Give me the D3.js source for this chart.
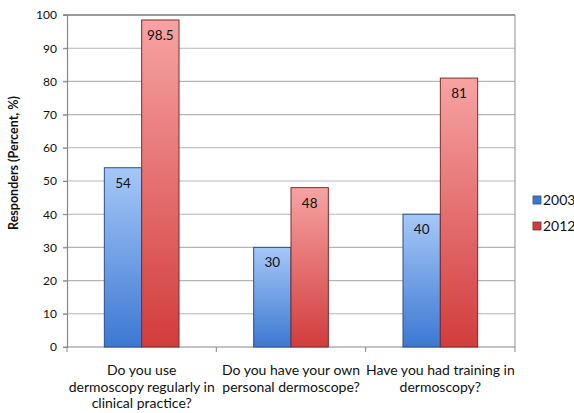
<!DOCTYPE html>
<html>
<head>
<meta charset="utf-8">
<script src="https://cdn.jsdelivr.net/npm/d3@7"></script>
<style>
  html, body { margin: 0; padding: 0; background: #fff; }
  svg { display: block; }
  text { font-family: Lato, "Open Sans", sans-serif; fill: #111; }
</style>
</head>
<body>
<svg id="chart" width="574" height="413"></svg>
<script>
// Survey questions (one group per question)
const categories = [
  "Do you use dermoscopy regularly in clinical practice?",
  "Do you have your own personal dermoscope?",
  "Have you had training in dermoscopy?"
];
const categoryLines = [
  ["Do you use", "dermoscopy regularly in", "clinical practice?"],
  ["Do you have your own", "personal dermoscope?"],
  ["Have you had training in", "dermoscopy?"]
];
const seriesNames = ["2003", "2012"];
const values2003 = [54, 30, 40];
const values2012 = [98.5, 48, 81];
const yTicks = [0, 10, 20, 30, 40, 50, 60, 70, 80, 90, 100];

const svg = d3.select("#chart");
const plot = { left: 67, right: 515, top: 15, bottom: 347 };

// Gradients: light at the top, saturated at the base
const defs = svg.append("defs");
const grads = [
  { id: "g2003", top: "#a6c8f7", bottom: "#3c78d2", stroke: "#2d4f86" },
  { id: "g2012", top: "#f7a3a3", bottom: "#d23c3c", stroke: "#7a2b2b" }
];
grads.forEach(g => {
  const lg = defs.append("linearGradient").attr("id", g.id)
    .attr("x1", 0).attr("y1", 0).attr("x2", 0).attr("y2", 1);
  lg.append("stop").attr("offset", "0%").attr("stop-color", g.top);
  lg.append("stop").attr("offset", "100%").attr("stop-color", g.bottom);
});

const x0 = d3.scaleBand().domain(categories)
  .range([plot.left, plot.right]).paddingInner(0.5).paddingOuter(0.25);
const x1 = d3.scaleBand().domain(seriesNames).range([0, x0.bandwidth()]);
const y = d3.scaleLinear().domain([0, 100]).range([plot.bottom, plot.top]);

// Gridlines
svg.append("g").selectAll("line").data(yTicks.filter(t => t > 0)).join("line")
  .attr("x1", plot.left - 4).attr("x2", plot.right)
  .attr("y1", d => y(d)).attr("y2", d => y(d))
  .attr("stroke", d => d === 100 ? "#777" : "#b5b5b5")
  .attr("stroke-width", d => d === 100 ? 1.4 : 1.1);

// Right border of plot area
svg.append("line")
  .attr("x1", plot.right).attr("x2", plot.right)
  .attr("y1", plot.top).attr("y2", plot.bottom)
  .attr("stroke", "#999").attr("stroke-width", 1.1);

// Y axis
const yAxis = svg.append("g").attr("transform", `translate(${plot.left},0)`)
  .call(d3.axisLeft(y).tickValues(yTicks).tickSize(4).tickPadding(6));
yAxis.select(".domain").attr("stroke", "#888").attr("stroke-width", 1.2);
yAxis.selectAll(".tick line").attr("stroke", "#888");
yAxis.selectAll(".tick text").style("font-size", "12px").attr("fill", "#222")
  .style("font-family", "Lato, sans-serif");

// X axis baseline with category separators
const xAxisG = svg.append("g").attr("transform", `translate(0,${plot.bottom})`);
xAxisG.append("line").attr("x1", plot.left - 4).attr("x2", plot.right)
  .attr("stroke", "#888").attr("stroke-width", 1.2);
const bounds = d3.range(categories.length + 1).map(i => plot.left + i * (plot.right - plot.left) / categories.length);
xAxisG.selectAll("line.sep").data(bounds).join("line").attr("class", "sep")
  .attr("x1", d => d).attr("x2", d => d).attr("y1", 0).attr("y2", 5)
  .attr("stroke", "#888");

// Bars
const rows = categories.map((c, i) => ({ cat: c, vals: [values2003[i], values2012[i]] }));
const groups = svg.append("g").selectAll("g").data(rows).join("g")
  .attr("transform", d => `translate(${x0(d.cat)},0)`);
groups.selectAll("rect").data(d => d.vals.map((v, j) => ({ v, s: seriesNames[j], j })))
  .join("rect")
  .attr("x", d => x1(d.s)).attr("width", x1.bandwidth())
  .attr("y", d => y(d.v)).attr("height", d => y(0) - y(d.v))
  .attr("fill", d => `url(#${grads[d.j].id})`)
  .attr("stroke", d => grads[d.j].stroke).attr("stroke-width", 1);
groups.selectAll("text").data(d => d.vals.map((v, j) => ({ v, s: seriesNames[j] })))
  .join("text")
  .attr("x", d => x1(d.s) + x1.bandwidth() / 2)
  .attr("y", d => y(d.v) + 20)
  .attr("text-anchor", "middle")
  .style("font-size", "13.5px").attr("fill", "#1a1a2a")
  .text(d => d.v);

// Category labels
const labG = svg.append("g").selectAll("text").data(categories).join("text")
  .attr("text-anchor", "middle")
  .attr("transform", d => `translate(${x0(d) + x0.bandwidth() / 2},${plot.bottom + 28})`)
  .style("font-size", "14px").attr("fill", "#111");
labG.each(function(d, i) {
  d3.select(this).selectAll("tspan").data(categoryLines[i]).join("tspan")
    .attr("x", 0).attr("dy", (l, k) => k === 0 ? 0 : 16.5).text(l => l);
});

// Y axis title
svg.append("text")
  .attr("transform", "translate(18,163) rotate(-90)")
  .attr("text-anchor", "middle")
  .style("font-size", "12.5px").style("font-weight", "bold")
  .text("Responders (Percent, %)");

// Legend
const legend = svg.append("g").selectAll("g").data(seriesNames).join("g")
  .attr("transform", (d, i) => `translate(533,${200 + i * 26})`);
legend.append("rect").attr("x", 0).attr("y", -4).attr("width", 8).attr("height", 8)
  .attr("fill", (d, i) => grads[i].bottom).attr("stroke", (d, i) => grads[i].stroke)
  .attr("stroke-width", 0.8);
legend.append("text").attr("x", 10).attr("y", 5)
  .style("font-size", "14px").attr("fill", "#111").text(d => d);
</script>
</body>
</html>
